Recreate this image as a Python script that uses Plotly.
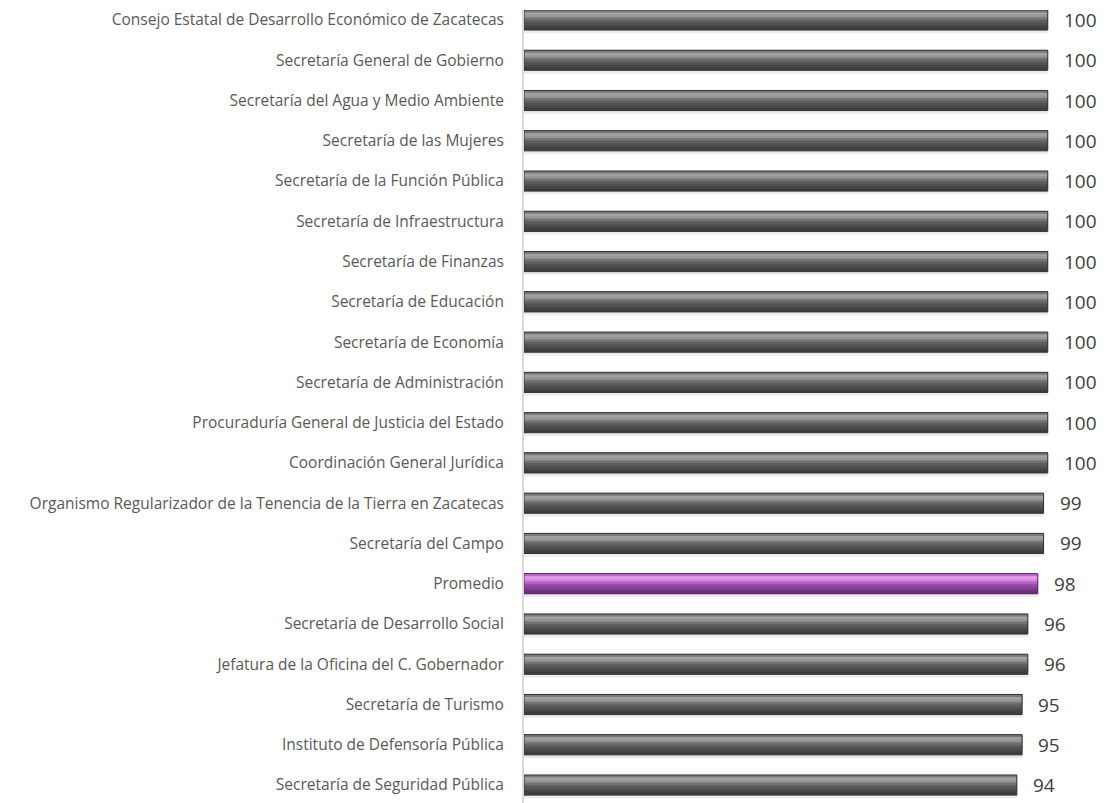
import plotly.graph_objects as go

categories = [
    "Secretaría de Seguridad Pública",
    "Instituto de Defensoría Pública",
    "Secretaría de Turismo",
    "Jefatura de la Oficina del C. Gobernador",
    "Secretaría de Desarrollo Social",
    "Promedio",
    "Secretaría del Campo",
    "Organismo Regularizador de la Tenencia de la Tierra en Zacatecas",
    "Coordinación General Jurídica",
    "Procuraduría General de Justicia del Estado",
    "Secretaría de Administración",
    "Secretaría de Economía",
    "Secretaría de Educación",
    "Secretaría de Finanzas",
    "Secretaría de Infraestructura",
    "Secretaría de la Función Pública",
    "Secretaría de las Mujeres",
    "Secretaría del Agua y Medio Ambiente",
    "Secretaría General de Gobierno",
    "Consejo Estatal de Desarrollo Económico de Zacatecas",
]
values = [94.1, 95.1, 95.1, 96.2, 96.2, 98.1, 99.2, 99.2, 100, 100, 100, 100,
          100, 100, 100, 100, 100, 100, 100, 100]

highlight_name = "Promedio"

# stripe palettes (bottom -> top): gray and purple
gray_stripes = ["#3c3c3c", "#464646", "#525252", "#5e5e5e", "#727272", "#959595", "#a2a2a2", "#7a7a7a"]
purple_stripes = ["#6a2c78", "#7a3889", "#8a439a", "#9a4eaa", "#b866c6", "#d88ae2", "#e6a0ec", "#b86cc6"]

BAR_W = 0.5
n_str = len(gray_stripes)
stripe_w = BAR_W / n_str

fig = go.Figure()

# soft shadow below bars
fig.add_trace(go.Bar(
    y=categories, x=values, orientation="h",
    width=0.1, offset=-BAR_W / 2 - 0.08,
    marker=dict(color="rgba(0,0,0,0.08)", line=dict(width=0)),
    hoverinfo="skip", showlegend=False,
))

# overlapping stripes: each one runs from its lower edge up to the bar top
for i in range(n_str):
    cols = [purple_stripes[i] if c == highlight_name else gray_stripes[i] for c in categories]
    fig.add_trace(go.Bar(
        y=categories, x=values, orientation="h",
        width=BAR_W - i * stripe_w, offset=-BAR_W / 2 + i * stripe_w,
        marker=dict(color=cols, line=dict(width=0)),
        hoverinfo="skip", showlegend=False,
    ))

# outline
fig.add_trace(go.Bar(
    y=categories, x=values, orientation="h",
    width=BAR_W, offset=-BAR_W / 2,
    marker=dict(color="rgba(0,0,0,0)",
                line=dict(width=1, color=["#5a2466" if c == highlight_name else "#333333" for c in categories])),
    hoverinfo="skip", showlegend=False,
))

annotations = []
for c, v in zip(categories, values):
    annotations.append(dict(
        x=v, y=c, xref="x", yref="y", text=f"{v:.0f}", showarrow=False,
        xanchor="left", yanchor="middle", xshift=14,
        font=dict(family="Open Sans", size=19, color="#404040"),
    ))

fig.update_layout(
    width=1100, height=795,
    margin=dict(l=516, r=0, t=0, b=0),
    barmode="overlay",
    plot_bgcolor="white", paper_bgcolor="white",
    showlegend=False,
    annotations=annotations,
    xaxis=dict(range=[0, 111.5], visible=False, fixedrange=True),
    yaxis=dict(
        type="category", categoryorder="array", categoryarray=categories,
        range=[-0.446, 19.248],
        showgrid=False, showline=True, linecolor="#d9d9d9", linewidth=2,
        ticks="", ticklabelstandoff=15,
        tickfont=dict(family="Open Sans", size=15.5, color="#595959"),
    ),
)

fig.write_html("out.html")
